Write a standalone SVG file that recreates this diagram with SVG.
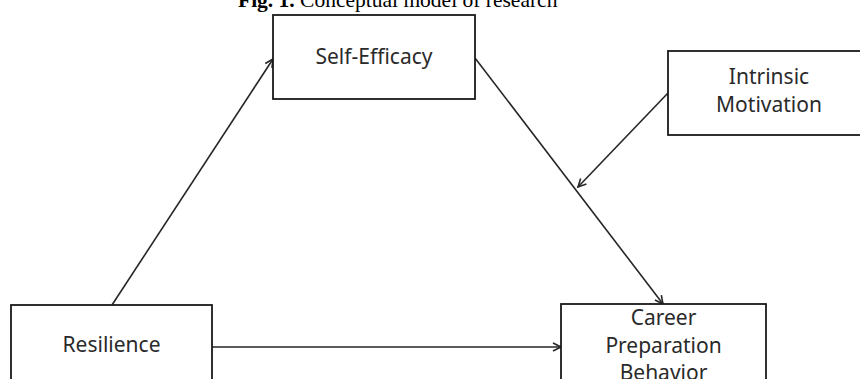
<svg xmlns="http://www.w3.org/2000/svg" width="860" height="379" viewBox="0 0 860 379">
<style>
.box{fill:#fff;stroke:#1a1a1a;stroke-width:1.8}
.lbl{font-family:"Noto Sans","Open Sans",sans-serif;font-size:21px;fill:#2a2a2a;text-anchor:middle}
.edge{stroke:#262626;stroke-width:1.6;fill:none;marker-end:url(#arr)}
.title{font-family:"Liberation Serif","Times New Roman",serif;font-size:21.5px;fill:#000}
</style>
<defs>
<marker id="arr" markerUnits="userSpaceOnUse" markerWidth="12" markerHeight="12" refX="9" refY="5" orient="auto" viewBox="0 0 12 10">
<path d="M1,1 L9,5 L1,9" fill="none" stroke="#262626" stroke-width="1.6"/>
</marker>
</defs>
<rect width="860" height="379" fill="#fff"/>
<text class="title" x="238" y="7"><tspan font-weight="bold">Fig. 1.</tspan> Conceptual model of research</text>
<g id="connectors">
<line class="edge" x1="112" y1="305" x2="273" y2="59"/>
<line class="edge" x1="475" y1="58" x2="663" y2="304"/>
<line class="edge" x1="668" y1="93" x2="578" y2="187"/>
<line class="edge" x1="212" y1="347" x2="561" y2="347"/>
</g>
<g id="self-efficacy">
<rect class="box" x="273" y="15" width="202" height="84"/>
<text class="lbl" x="374" y="64">Self-Efficacy</text>
</g>
<g id="intrinsic-motivation">
<rect class="box" x="668" y="51" width="202" height="84"/>
<text class="lbl" x="769" y="84">Intrinsic</text>
<text class="lbl" x="769" y="112">Motivation</text>
</g>
<g id="resilience">
<rect class="box" x="11" y="305" width="201" height="84"/>
<text class="lbl" x="111.5" y="352">Resilience</text>
</g>
<g id="career-preparation-behavior">
<rect class="box" x="561" y="304" width="205" height="84"/>
<text class="lbl" x="663.5" y="325">Career</text>
<text class="lbl" x="663.5" y="353">Preparation</text>
<text class="lbl" x="663.5" y="380">Behavior</text>
</g>
</svg>
